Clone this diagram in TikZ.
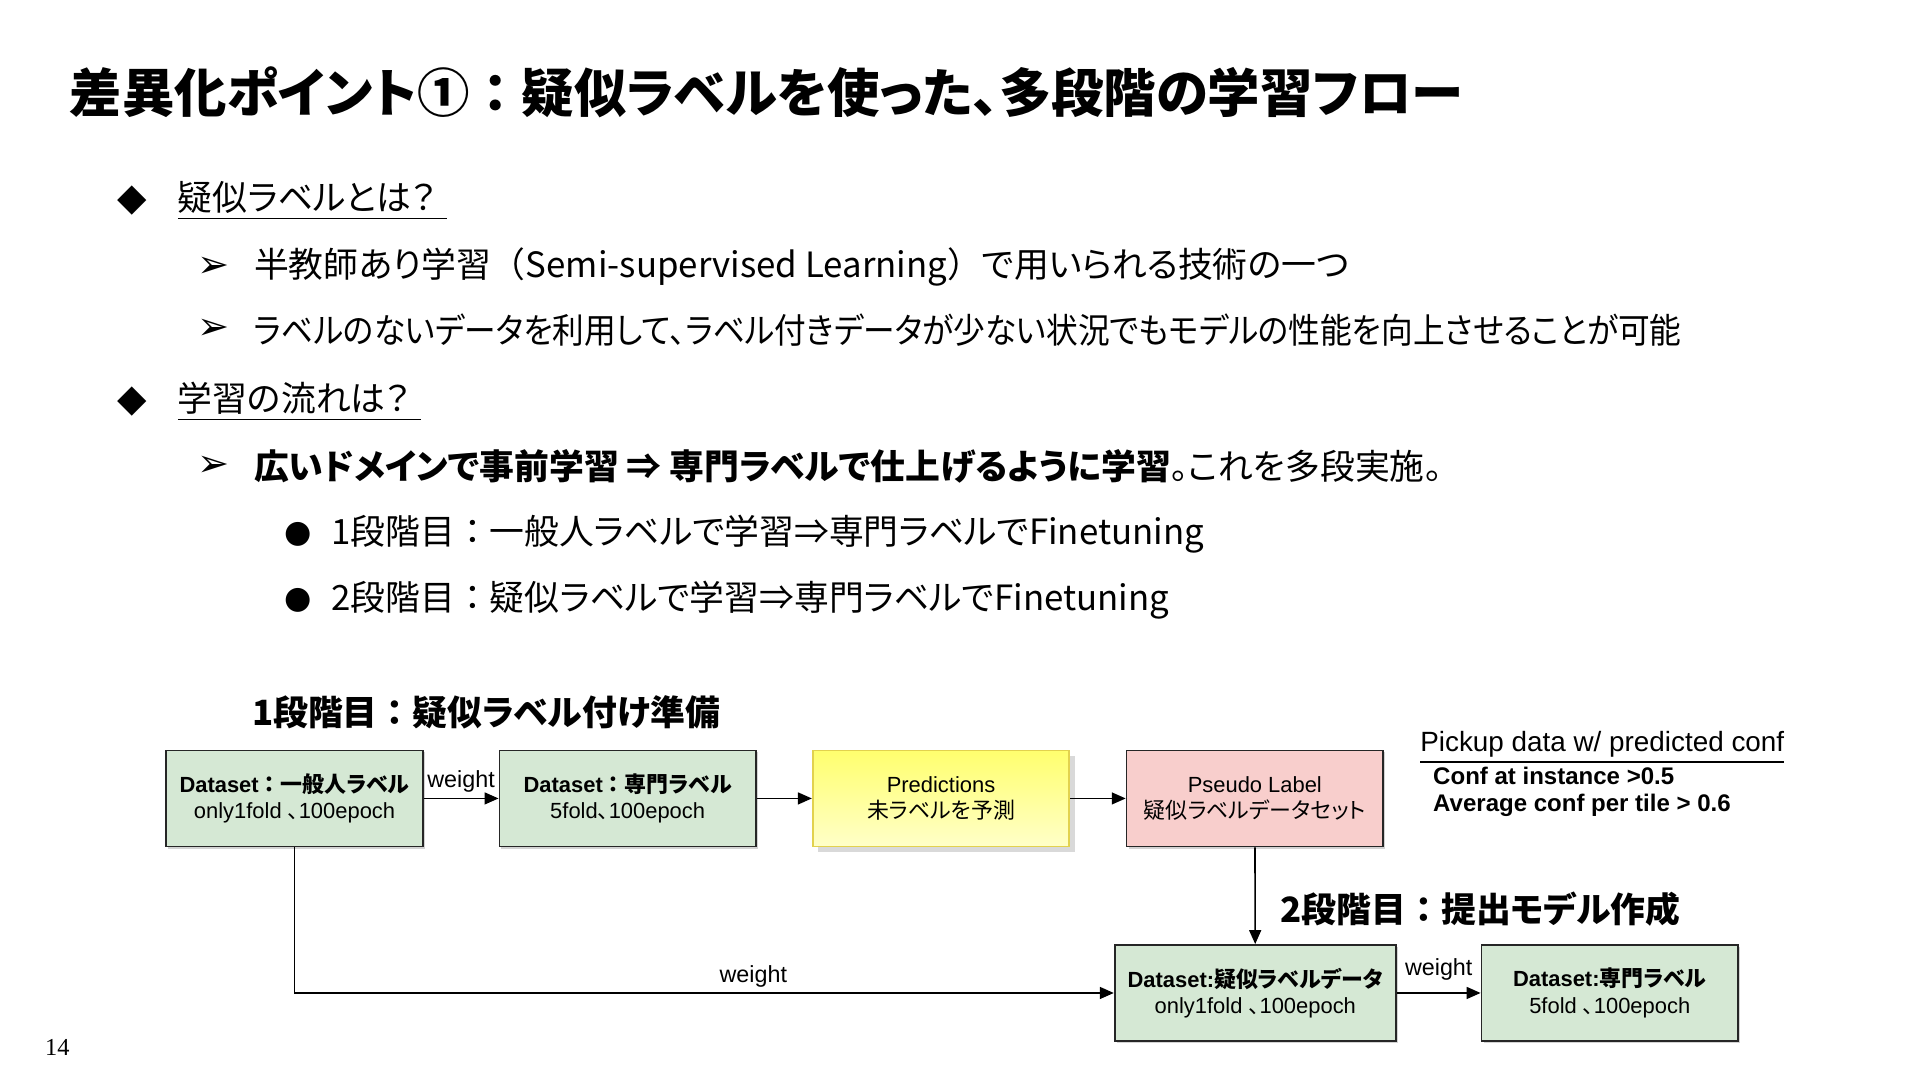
\documentclass[tikz,border=0pt]{standalone}
\usepackage{fontspec}
\setmainfont{Noto Sans CJK JP}[RawFeature=+palt]
\newfontfamily\jafont{Noto Sans CJK JP}[RawFeature=+palt]
\newfontfamily\jafull{Noto Sans CJK JP}
\newfontfamily\janarrow{Noto Sans CJK JP}[RawFeature=+palt, FakeStretch=0.91]
\newfontfamily\arialfont{Liberation Sans}
\newfontfamily\symbolfont{DejaVu Sans}
\newfontfamily\pagefont{Liberation Serif}
\usetikzlibrary{arrows.meta,shadows,positioning}
\definecolor{stage green}{HTML}{D5E8D4}
\definecolor{pseudo pink}{HTML}{F8CECC}
\definecolor{pred top}{HTML}{FFFF6E}
\definecolor{pred bottom}{HTML}{FFFFC8}
\definecolor{pred border}{HTML}{E2D24E}
\newcommand{\ja}[1]{{\jafont #1}}
\newcommand{\wide}[1]{{\jafull #1}}
\tikzset{
  % slide texts
  title text/.style = {anchor=west, inner sep=0pt,
     font=\fontsize{15.05}{18}\selectfont\bfseries},
  body text/.style = {anchor=west, inner sep=0pt,
     font=\fontsize{10}{12}\selectfont},
  stage text/.style = {anchor=west, inner sep=0pt,
     font=\fontsize{10}{12}\selectfont\bfseries},
  diamond mark/.style = {inner sep=0pt, font=\symbolfont\fontsize{11}{11}\selectfont},
  arrow mark/.style = {inner sep=0pt, font=\symbolfont\fontsize{11}{11}\selectfont},
  dot mark/.style = {inner sep=0pt, font=\symbolfont\fontsize{9}{10}\selectfont},
  % flow boxes
  flow box/.style = {
     draw=black!85, line width=0.5pt,
     minimum width=2.59cm, minimum height=0.97cm,
     align=center, inner sep=1pt,
     font=\arialfont\fontsize{6.3}{7.6}\selectfont,
  },
  small shadow/.style = {drop shadow={shadow xshift=0.6pt, shadow yshift=-0.6pt, opacity=0.35}},
  dataset/.style = {flow box, small shadow, fill=stage green},
  pseudo/.style = {flow box, small shadow, fill=pseudo pink},
  predict/.style = {flow box, draw=pred border,
     top color=pred top, bottom color=pred bottom,
     drop shadow={shadow xshift=1.5pt, shadow yshift=-1.5pt, opacity=0.3}},
  flow arrow/.style = {-{Triangle[length=1.4mm,width=1.2mm]}, line width=0.45pt},
  weight label/.style = {font=\arialfont\fontsize{6.7}{8}\selectfont, inner sep=1.5pt},
  note text/.style = {anchor=west, inner sep=0pt, font=\arialfont\fontsize{6.9}{8}\selectfont\bfseries},
}
\begin{document}
\begin{tikzpicture}[x=0.01cm, y=-0.01cm]
  \useasboundingbox (0,0) rectangle (1939.4,1090.9);
  % title
  \node[title text] (title) at (70,93) {差異化ポイント①\wide{：}疑似ラベルを使った、多段階の学習フロー};
  % what is a pseudo label
  \node[diamond mark] (d1) at (134,203) {◆};
  \node[body text] (q1) at (179,203) {\underline{疑似ラベルとは？\hspace{0.3em}}};
  \node[arrow mark] (a1) at (216,270) {➢};
  \node[body text] (s1) at (256,270) {半教師あり学習\wide{（}Semi-supervised Learning\wide{）}で用いられる技術の一つ};
  \node[arrow mark] (a2) at (216,333) {➢};
  \node[body text, font=\janarrow\fontsize{10}{12}\selectfont] (s2) at (256,333) {ラベルのないデータを利用して、ラベル付きデータが少ない状況でもモデルの性能を向上させることが可能};
  % how the training flows
  \node[diamond mark] (d2) at (134,406) {◆};
  \node[body text] (q2) at (179,406) {\underline{学習の流れは？\hspace{0.3em}}};
  \node[arrow mark] (a3) at (216,471) {➢};
  \node[body text] (s3) at (256,471) {\textbf{広いドメインで事前学習 ⇒ 専門ラベルで仕上げるように学習}。これを多段実施。};
  \node[dot mark] (b1) at (301,540) {●};
  \node[body text] (s4) at (334,540) {1段階目\wide{：}一般人ラベルで学習⇒専門ラベルでFinetuning};
  \node[dot mark] (b2) at (301,606) {●};
  \node[body text] (s5) at (334,606) {2段階目\wide{：}疑似ラベルで学習⇒専門ラベルでFinetuning};

  % stage 1
  \node[stage text] (stage1) at (254,720) {1段階目\wide{：}疑似ラベル付け準備};
  \node[dataset] (general) at (297.5,806.5) {\textbf{Dataset\wide{：}\ja{一般人ラベル}}\\only1fold \ja{、}100epoch};
  \node[dataset] (expert) at (634,806.5) {\textbf{Dataset\wide{：}\ja{専門ラベル}}\\5fold\ja{、}100epoch};
  \node[predict] (pred) at (950.5,806.5) {Predictions\\\ja{未ラベルを予測}};
  \node[pseudo] (plabel) at (1267.5,806.5) {Pseudo Label\\\ja{疑似ラベルデータセット}};
  \node[anchor=west, inner sep=0pt, font=\arialfont\fontsize{8}{9}\selectfont] (pickup) at (1434,755) {\underline{Pickup data w/ predicted conf}};
  \node[note text] (conf1) at (1447,784) {Conf at instance >0.5};
  \node[note text] (conf2) at (1447,813) {Average conf per tile > 0.6};

  % stage 2
  \node[stage text] (stage2) at (1293,918) {2段階目\wide{：}提出モデル作成};
  \node[dataset, minimum width=2.84cm] (pseudoset) at (1268,1003) {\textbf{Dataset:\ja{疑似ラベルデータ}}\\only1fold \ja{、}100epoch};
  \node[dataset] (final) at (1626,1003) {\textbf{Dataset:\ja{専門ラベル}}\\5fold \ja{、}100epoch};

  % connectors
  \draw[flow arrow] (general) -- (expert) node[midway, above, weight label] (w1) {weight};
  \draw[flow arrow] (expert) -- (pred);
  \draw[flow arrow] (pred) -- (plabel);
  \draw[flow arrow] (plabel) -- (pseudoset);
  \draw[flow arrow] (general.south) |- (pseudoset.west) node[pos=0.78, above, weight label] (w2) {weight};
  \draw[flow arrow] (pseudoset) -- (final) node[midway, above, weight label, yshift=2pt] (w3) {weight};

  % page number
  \node[anchor=west, inner sep=0pt, font=\pagefont\fontsize{7}{8}\selectfont] (page) at (45,1058) {14};
\end{tikzpicture}
\end{document}
